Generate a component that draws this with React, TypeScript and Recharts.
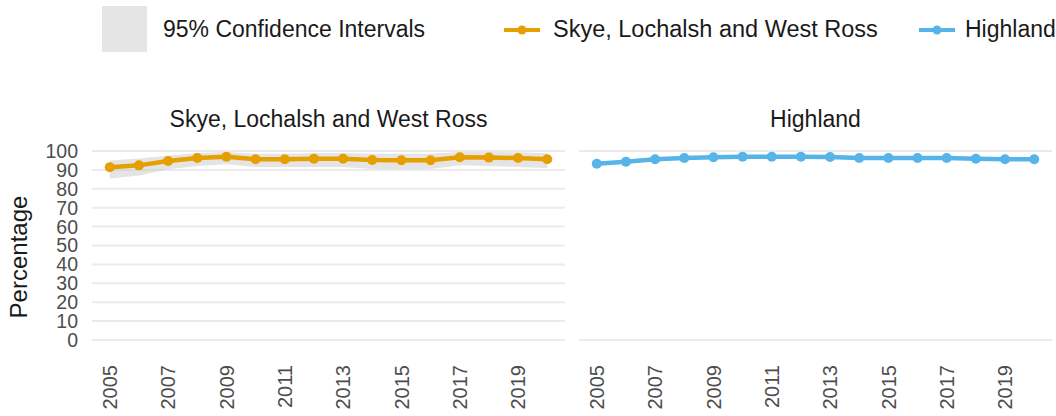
import React from "react";
import { Area, CartesianGrid, ComposedChart, Line, XAxis, YAxis } from "recharts";

const years = [2005, 2006, 2007, 2008, 2009, 2010, 2011, 2012, 2013, 2014, 2015, 2016, 2017, 2018, 2019, 2020];
const skye = [91.4, 92.4, 94.7, 96.3, 97.0, 95.6, 95.6, 95.9, 95.9, 95.2, 95.1, 95.1, 96.7, 96.5, 96.3, 95.6];
const skyeLower = [85.5, 87, 90.3, 92, 93, 91.5, 91.5, 91.5, 91.5, 90.5, 90.5, 90.5, 92.5, 92, 91.5, 91];
const skyeUpper = [95, 96, 97.5, 99, 99.5, 98.5, 98.5, 99, 99, 98.5, 98.5, 98.5, 99.5, 99.5, 99.3, 98.8];
const highland = [93.3, 94.3, 95.6, 96.3, 96.7, 97.0, 97.0, 97.0, 96.8, 96.3, 96.3, 96.3, 96.3, 95.9, 95.6, 95.6];

const yTicks = [0, 10, 20, 30, 40, 50, 60, 70, 80, 90, 100];
const xTicks = [2005, 2007, 2009, 2011, 2013, 2015, 2017, 2019];

const ORANGE = "#E69F00";
const BLUE = "#56B4E9";
const FONT = '"Liberation Sans", Arial, sans-serif';

const skyeData = years.map((year, i) => ({
  year,
  value: skye[i],
  ci: [skyeLower[i], skyeUpper[i]],
}));
const highlandData = years.map((year, i) => ({ year, value: highland[i] }));

const YearTick = (props: any) => {
  const { x, y, payload } = props;
  return (
    <g transform={`translate(${x},${y + 25})`}>
      <text transform="rotate(-90)" textAnchor="end" dy="0.36em" fontSize={20} fill="#4d4d4d">
        {payload.value}
      </text>
    </g>
  );
};

function LegendKey({ color }: { color: string }) {
  return (
    <svg width={36} height={12} style={{ display: "block" }}>
      <line x1={0} y1={6} x2={36} y2={6} stroke={color} strokeWidth={4} />
      <circle cx={18} cy={6} r={4.5} fill={color} />
    </svg>
  );
}

function Panel({ data, color, band, showY, left, width, right }: any) {
  return (
    <div style={{ position: "absolute", left, top: 0 }}>
      <ComposedChart
        width={width}
        height={416}
        data={data}
        margin={{ top: 151, right, bottom: 0, left: 0 }}
      >
        <CartesianGrid vertical={false} stroke="#ebebeb" strokeWidth={2} />
        <XAxis
          dataKey="year"
          type="number"
          domain={[2004.39, 2020.61]}
          ticks={xTicks}
          interval={0}
          allowDataOverflow
          axisLine={false}
          tickLine={false}
          tickSize={0}
          tickMargin={0}
          height={76}
          tick={<YearTick />}
        />
        <YAxis
          type="number"
          domain={[0, 100]}
          ticks={yTicks}
          interval={0}
          width={showY ? 92 : 0}
          axisLine={false}
          tickLine={false}
          tickSize={0}
          tickMargin={14}
          tick={showY ? { fontSize: 19.5, fill: "#4d4d4d" } : false}
        />
        {band && (
          <Area
            dataKey="ci"
            type="linear"
            stroke="none"
            fill="#c4c4c4"
            fillOpacity={0.45}
            isAnimationActive={false}
            activeDot={false}
          />
        )}
        <Line
          dataKey="value"
          type="linear"
          stroke={color}
          strokeWidth={4.5}
          dot={{ r: 5, fill: color, stroke: color, strokeWidth: 0 }}
          activeDot={false}
          isAnimationActive={false}
        />
      </ComposedChart>
    </div>
  );
}

export default function App() {
  return (
    <div
      style={{
        position: "absolute",
        left: 0,
        top: 0,
        width: 1056,
        height: 416,
        background: "#fff",
        fontFamily: FONT,
        color: "#1a1a1a",
        overflow: "hidden",
      }}
    >
      {/* legend */}
      <div style={{ position: "absolute", left: 102, top: 6, width: 45, height: 46, background: "#e5e5e5" }} />
      <div style={{ position: "absolute", left: 163, top: 15, fontSize: 23, lineHeight: "28px" }}>
        95% Confidence Intervals
      </div>
      <div style={{ position: "absolute", left: 504, top: 24 }}>
        <LegendKey color={ORANGE} />
      </div>
      <div style={{ position: "absolute", left: 553, top: 15, fontSize: 23.5, lineHeight: "28px" }}>
        Skye, Lochalsh and West Ross
      </div>
      <div style={{ position: "absolute", left: 919, top: 24 }}>
        <LegendKey color={BLUE} />
      </div>
      <div style={{ position: "absolute", left: 965, top: 15, fontSize: 23, lineHeight: "28px" }}>
        Highland
      </div>

      {/* strip titles */}
      <div style={{ position: "absolute", left: 92, width: 473, top: 105, textAlign: "center", fontSize: 23, lineHeight: "28px" }}>
        Skye, Lochalsh and West Ross
      </div>
      <div style={{ position: "absolute", left: 579, width: 473, top: 105, textAlign: "center", fontSize: 23, lineHeight: "28px" }}>
        Highland
      </div>

      {/* y axis title */}
      <div
        style={{
          position: "absolute",
          left: 19,
          top: 257,
          transform: "translate(-50%, -50%) rotate(-90deg)",
          fontSize: 24,
          whiteSpace: "nowrap",
        }}
      >
        Percentage
      </div>

      <Panel data={skyeData} color={ORANGE} band showY left={0} width={575} right={10} />
      <Panel data={highlandData} color={BLUE} band={false} showY={false} left={579} width={477} right={4} />
    </div>
  );
}
